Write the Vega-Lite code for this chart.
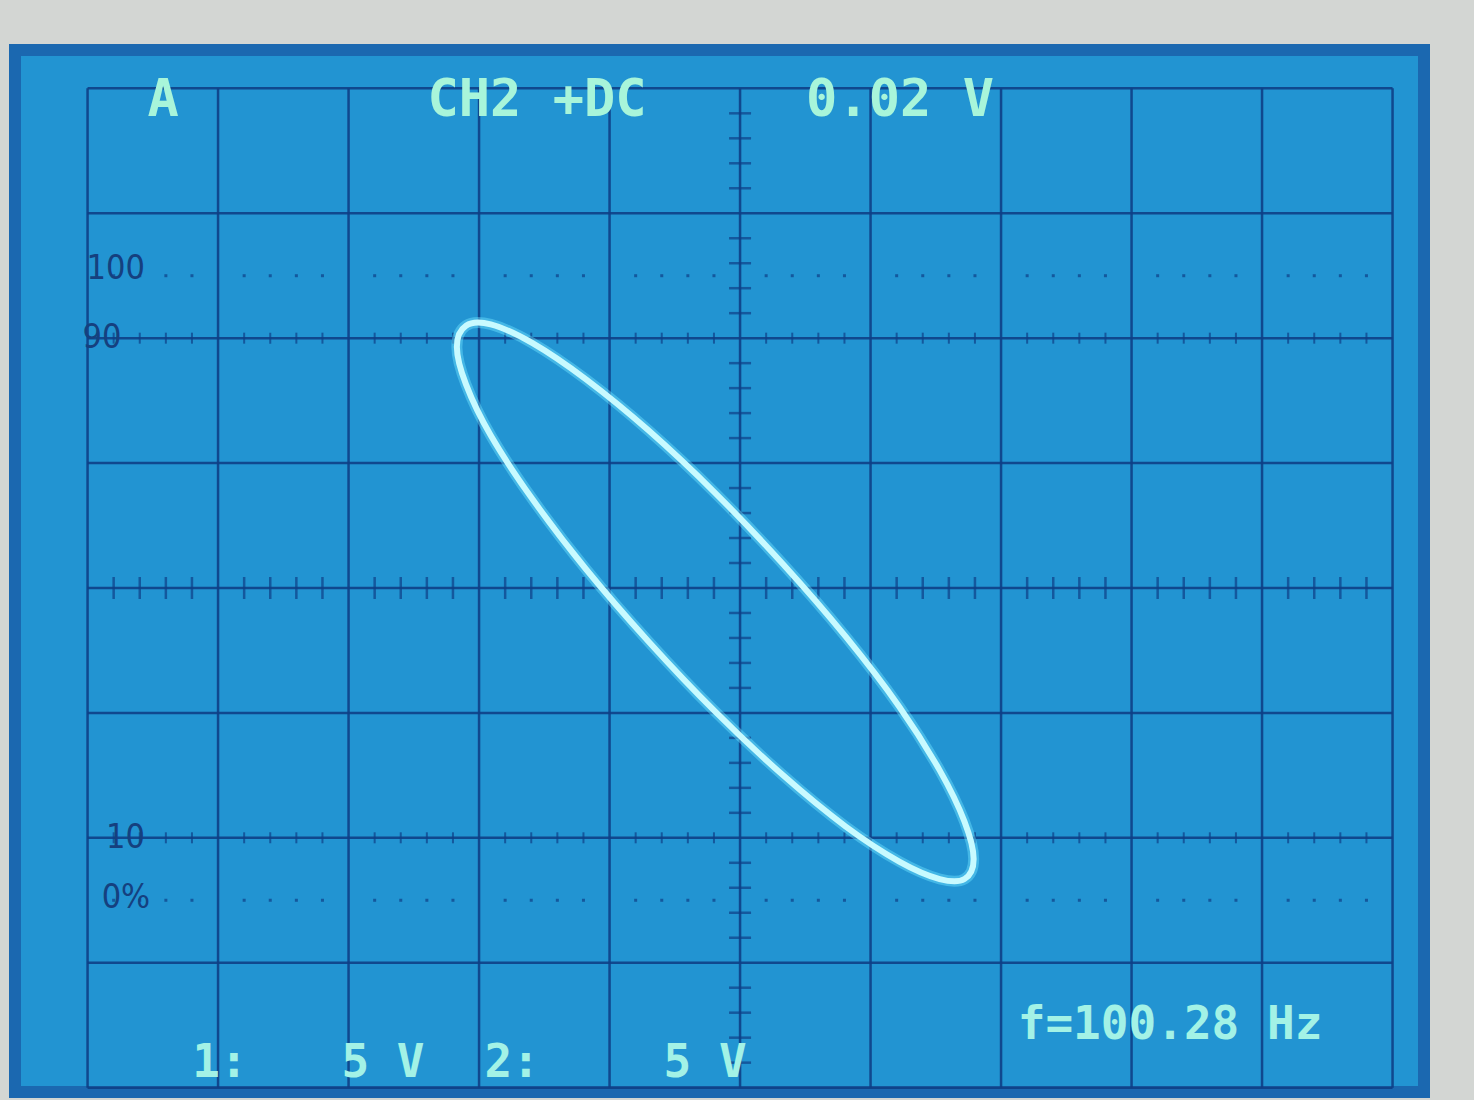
{
  "$schema": "https://vega.github.io/schema/vega-lite/v6.json",
  "width": 1474,
  "height": 1100,
  "autosize": {"type": "fit", "contains": "padding"},
  "padding": {"left": 15, "top": 50, "right": 50, "bottom": 8},
  "background": "#d3d6d3",
  "config": {
    "view": {"fill": "#2294d2", "stroke": "#1b68b0", "strokeWidth": 12}
  },
  "datasets": {
    "vlines": [{"v": -5}, {"v": -4}, {"v": -3}, {"v": -2}, {"v": -1}, {"v": 0}, {"v": 1}, {"v": 2}, {"v": 3}, {"v": 4}, {"v": 5}],
    "hlines": [{"v": -4}, {"v": -3}, {"v": -2}, {"v": -1}, {"v": 0}, {"v": 1}, {"v": 2}, {"v": 3}, {"v": 4}],
    "xt": [{"v": -4.8}, {"v": -4.6}, {"v": -4.4}, {"v": -4.2}, {"v": -3.8}, {"v": -3.6}, {"v": -3.4}, {"v": -3.2}, {"v": -2.8}, {"v": -2.6}, {"v": -2.4}, {"v": -2.2}, {"v": -1.8}, {"v": -1.6}, {"v": -1.4}, {"v": -1.2}, {"v": -0.8}, {"v": -0.6}, {"v": -0.4}, {"v": -0.2}, {"v": 0.2}, {"v": 0.4}, {"v": 0.6}, {"v": 0.8}, {"v": 1.2}, {"v": 1.4}, {"v": 1.6}, {"v": 1.8}, {"v": 2.2}, {"v": 2.4}, {"v": 2.6}, {"v": 2.8}, {"v": 3.2}, {"v": 3.4}, {"v": 3.6}, {"v": 3.8}, {"v": 4.2}, {"v": 4.4}, {"v": 4.6}, {"v": 4.8}],
    "yt": [{"v": -3.8}, {"v": -3.6}, {"v": -3.4}, {"v": -3.2}, {"v": -2.8}, {"v": -2.6}, {"v": -2.4}, {"v": -2.2}, {"v": -1.8}, {"v": -1.6}, {"v": -1.4}, {"v": -1.2}, {"v": -0.8}, {"v": -0.6}, {"v": -0.4}, {"v": -0.2}, {"v": 0.2}, {"v": 0.4}, {"v": 0.6}, {"v": 0.8}, {"v": 1.2}, {"v": 1.4}, {"v": 1.6}, {"v": 1.8}, {"v": 2.2}, {"v": 2.4}, {"v": 2.6}, {"v": 2.8}, {"v": 3.2}, {"v": 3.4}, {"v": 3.6}, {"v": 3.8}],
    "trace": [
      {"t": 0, "x": 1.79, "y": -2.17},
      {"t": 15, "x": 1.72, "y": -2.33},
      {"t": 30, "x": 1.53, "y": -2.33},
      {"t": 45, "x": 1.22, "y": -2.19},
      {"t": 60, "x": 0.81, "y": -1.91},
      {"t": 75, "x": 0.33, "y": -1.50},
      {"t": 90, "x": -0.19, "y": -0.99},
      {"t": 105, "x": -0.70, "y": -0.43},
      {"t": 120, "x": -1.18, "y": 0.15},
      {"t": 135, "x": -1.59, "y": 0.71},
      {"t": 150, "x": -1.91, "y": 1.22},
      {"t": 165, "x": -2.10, "y": 1.63},
      {"t": 180, "x": -2.17, "y": 1.93},
      {"t": 195, "x": -2.10, "y": 2.10},
      {"t": 210, "x": -1.91, "y": 2.11},
      {"t": 225, "x": -1.59, "y": 1.96},
      {"t": 240, "x": -1.18, "y": 1.67},
      {"t": 255, "x": -0.70, "y": 1.26},
      {"t": 270, "x": -0.19, "y": 0.76},
      {"t": 285, "x": 0.33, "y": 0.19},
      {"t": 300, "x": 0.81, "y": -0.39},
      {"t": 315, "x": 1.22, "y": -0.95},
      {"t": 330, "x": 1.53, "y": -1.46},
      {"t": 345, "x": 1.72, "y": -1.87}
    ],
    "osdTop": [
      {"x": -4.42, "y": 3.91, "label": "A"},
      {"x": -1.556, "y": 3.91, "label": "CH2 +DC"},
      {"x": 1.226, "y": 3.91, "label": "0.02 V"}
    ],
    "osdBottom": [
      {"x": 3.295, "y": -3.5, "label": "f=100.28 Hz"},
      {"x": -3.985, "y": -3.8, "label": "1:"},
      {"x": -2.736, "y": -3.8, "label": "5 V"},
      {"x": -1.747, "y": -3.8, "label": "2:"},
      {"x": -0.268, "y": -3.8, "label": "5 V"}
    ],
    "grat": [
      {"x": -4.56, "y": 2.55, "label": "100"},
      {"x": -4.74, "y": 2.0, "label": "90"},
      {"x": -4.56, "y": -2.0, "label": "10"},
      {"x": -4.52, "y": -2.48, "label": "0%"}
    ]
  },
  "layer": [
    {
      "data": {"name": "vlines"},
      "mark": {"type": "rule", "color": "#0e3f86", "strokeWidth": 2.5, "opacity": 0.9},
      "encoding": {
        "x": {"field": "v", "type": "quantitative", "scale": {"domain": [-5.556, 5.241], "nice": false, "zero": false}, "axis": null},
        "y": {"datum": -4, "type": "quantitative", "scale": {"domain": [-4.035, 4.307], "nice": false, "zero": false}, "axis": null},
        "y2": {"datum": 4}
      }
    },
    {
      "data": {"name": "hlines"},
      "mark": {"type": "rule", "color": "#0e3f86", "strokeWidth": 2.5, "opacity": 0.9},
      "encoding": {
        "y": {"field": "v", "type": "quantitative", "scale": {"domain": [-4.035, 4.307], "nice": false, "zero": false}, "axis": null},
        "x": {"datum": -5, "type": "quantitative", "scale": {"domain": [-5.556, 5.241], "nice": false, "zero": false}, "axis": null},
        "x2": {"datum": 5}
      }
    },
    {
      "data": {"name": "xt"},
      "mark": {"type": "tick", "orient": "vertical", "color": "#0e3f86", "size": 22, "thickness": 2.5},
      "encoding": {
        "x": {"field": "v", "type": "quantitative", "scale": {"domain": [-5.556, 5.241], "nice": false, "zero": false}, "axis": null},
        "y": {"datum": 0, "type": "quantitative", "scale": {"domain": [-4.035, 4.307], "nice": false, "zero": false}, "axis": null}
      }
    },
    {
      "data": {"name": "yt"},
      "mark": {"type": "tick", "orient": "horizontal", "color": "#0e3f86", "size": 22, "thickness": 2.5},
      "encoding": {
        "y": {"field": "v", "type": "quantitative", "scale": {"domain": [-4.035, 4.307], "nice": false, "zero": false}, "axis": null},
        "x": {"datum": 0, "type": "quantitative", "scale": {"domain": [-5.556, 5.241], "nice": false, "zero": false}, "axis": null}
      }
    },
    {
      "data": {"name": "xt"},
      "mark": {"type": "tick", "orient": "vertical", "color": "#0e3f86", "size": 11, "thickness": 2},
      "encoding": {
        "x": {"field": "v", "type": "quantitative", "scale": {"domain": [-5.556, 5.241], "nice": false, "zero": false}, "axis": null},
        "y": {"datum": 2, "type": "quantitative", "scale": {"domain": [-4.035, 4.307], "nice": false, "zero": false}, "axis": null}
      }
    },
    {
      "data": {"name": "xt"},
      "mark": {"type": "tick", "orient": "vertical", "color": "#0e3f86", "size": 11, "thickness": 2},
      "encoding": {
        "x": {"field": "v", "type": "quantitative", "scale": {"domain": [-5.556, 5.241], "nice": false, "zero": false}, "axis": null},
        "y": {"datum": -2, "type": "quantitative", "scale": {"domain": [-4.035, 4.307], "nice": false, "zero": false}, "axis": null}
      }
    },
    {
      "data": {"name": "xt"},
      "mark": {"type": "tick", "orient": "vertical", "color": "#0e3f86", "size": 3, "thickness": 3},
      "encoding": {
        "x": {"field": "v", "type": "quantitative", "scale": {"domain": [-5.556, 5.241], "nice": false, "zero": false}, "axis": null},
        "y": {"datum": 2.5, "type": "quantitative", "scale": {"domain": [-4.035, 4.307], "nice": false, "zero": false}, "axis": null}
      }
    },
    {
      "data": {"name": "xt"},
      "mark": {"type": "tick", "orient": "vertical", "color": "#0e3f86", "size": 3, "thickness": 3},
      "encoding": {
        "x": {"field": "v", "type": "quantitative", "scale": {"domain": [-5.556, 5.241], "nice": false, "zero": false}, "axis": null},
        "y": {"datum": -2.5, "type": "quantitative", "scale": {"domain": [-4.035, 4.307], "nice": false, "zero": false}, "axis": null}
      }
    },
    {
      "data": {"name": "grat"},
      "mark": {"type": "text", "align": "right", "baseline": "middle", "font": "DejaVu Sans Condensed, DejaVu Sans", "fontSize": 34, "color": "#15407f"},
      "encoding": {
        "x": {"field": "x", "type": "quantitative", "scale": {"domain": [-5.556, 5.241], "nice": false, "zero": false}, "axis": null},
        "y": {"field": "y", "type": "quantitative", "scale": {"domain": [-4.035, 4.307], "nice": false, "zero": false}, "axis": null},
        "text": {"field": "label"}
      }
    },
    {
      "data": {"name": "trace"},
      "mark": {"type": "line", "interpolate": "cardinal-closed", "color": "#6fe2ff", "strokeWidth": 11, "opacity": 0.45},
      "encoding": {
        "x": {"field": "x", "type": "quantitative", "scale": {"domain": [-5.556, 5.241], "nice": false, "zero": false}, "axis": null},
        "y": {"field": "y", "type": "quantitative", "scale": {"domain": [-4.035, 4.307], "nice": false, "zero": false}, "axis": null},
        "order": {"field": "t", "type": "quantitative"}
      }
    },
    {
      "data": {"name": "trace"},
      "mark": {"type": "line", "interpolate": "cardinal-closed", "color": "#c8faff", "strokeWidth": 6},
      "encoding": {
        "x": {"field": "x", "type": "quantitative", "scale": {"domain": [-5.556, 5.241], "nice": false, "zero": false}, "axis": null},
        "y": {"field": "y", "type": "quantitative", "scale": {"domain": [-4.035, 4.307], "nice": false, "zero": false}, "axis": null},
        "order": {"field": "t", "type": "quantitative"}
      }
    },
    {
      "data": {"name": "osdTop"},
      "mark": {"type": "text", "align": "center", "baseline": "middle", "font": "DejaVu Sans Mono", "fontWeight": "bold", "fontSize": 52, "color": "#a8f5da"},
      "encoding": {
        "x": {"field": "x", "type": "quantitative", "scale": {"domain": [-5.556, 5.241], "nice": false, "zero": false}, "axis": null},
        "y": {"field": "y", "type": "quantitative", "scale": {"domain": [-4.035, 4.307], "nice": false, "zero": false}, "axis": null},
        "text": {"field": "label"}
      }
    },
    {
      "data": {"name": "osdBottom"},
      "mark": {"type": "text", "align": "center", "baseline": "middle", "font": "DejaVu Sans Mono", "fontWeight": "bold", "fontSize": 46, "color": "#a3f2e6"},
      "encoding": {
        "x": {"field": "x", "type": "quantitative", "scale": {"domain": [-5.556, 5.241], "nice": false, "zero": false}, "axis": null},
        "y": {"field": "y", "type": "quantitative", "scale": {"domain": [-4.035, 4.307], "nice": false, "zero": false}, "axis": null},
        "text": {"field": "label"}
      }
    }
  ]
}
